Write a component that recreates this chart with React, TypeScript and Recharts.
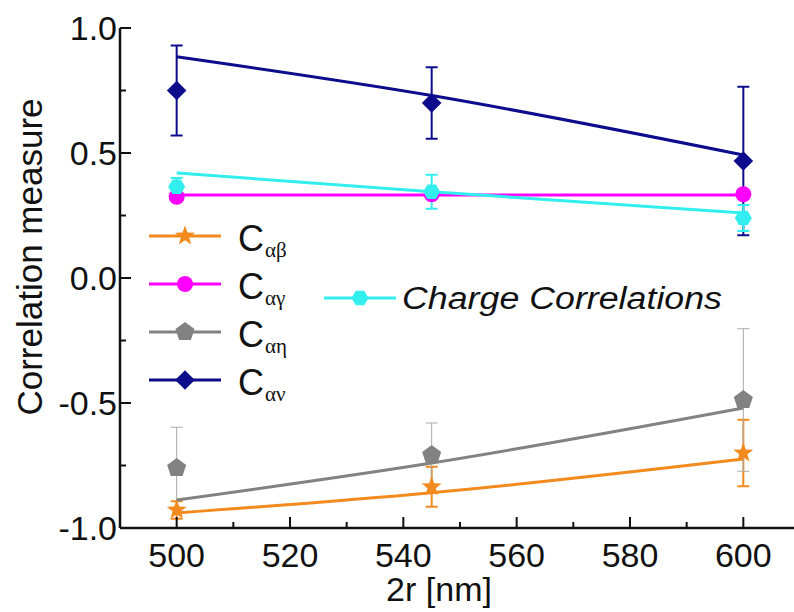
import React from "react";
import { ComposedChart, Line, Scatter, ErrorBar, XAxis, YAxis, Legend } from "recharts";

// sphere diameter 2r in nm
const radii = [500, 545, 600];

// measured correlations with error bars
const cAlphaBeta = [-0.928, -0.835, -0.7];
const cAlphaBetaErr = [0.035, 0.08, 0.133];
const cAlphaGamma = [0.325, 0.335, 0.335];
const cAlphaGammaErr = [0.012, 0.012, 0.012];
const cAlphaEta = [-0.76, -0.708, -0.488];
const cAlphaEtaErr = [0.163, 0.128, 0.285];
const cAlphaNu = [0.75, 0.7, 0.468];
const cAlphaNuErr = [0.18, 0.143, 0.297];
const chargeCorr = [0.365, 0.345, 0.24];
const chargeCorrErr = [0.035, 0.068, 0.052];

// fitted curves
const fitAlphaBeta = [-0.94, -0.859, -0.724];
const fitAlphaGamma = [0.332, 0.332, 0.332];
const fitAlphaEta = [-0.888, -0.74, -0.52];
const fitAlphaNu = [0.885, 0.73, 0.492];
const fitCharge = [0.42, 0.345, 0.26];

const xTicks = [500, 510, 520, 530, 540, 550, 560, 570, 580, 590, 600];
const xTickLabels = [500, 520, 540, 560, 580, 600];
const yTicks = [-1, -0.75, -0.5, -0.25, 0, 0.25, 0.5, 0.75, 1];
const yTickLabels = [-1, -0.5, 0, 0.5, 1];

const rows = radii.map((r, i) => ({
  r,
  ab: cAlphaBeta[i],
  abErr: cAlphaBetaErr[i],
  abFit: fitAlphaBeta[i],
  ag: cAlphaGamma[i],
  agErr: cAlphaGammaErr[i],
  agFit: fitAlphaGamma[i],
  ae: cAlphaEta[i],
  aeErr: cAlphaEtaErr[i],
  aeFit: fitAlphaEta[i],
  an: cAlphaNu[i],
  anErr: cAlphaNuErr[i],
  anFit: fitAlphaNu[i],
  ch: chargeCorr[i],
  chErr: chargeCorrErr[i],
  chFit: fitCharge[i],
}));

const FONT = '"Liberation Sans", Arial, sans-serif';
const GREEK = '"Liberation Serif", "DejaVu Serif", serif';

const series = [
  { key: "ab", name: "Cαβ", sub: "αβ", color: "#f28a1e", marker: "star", err: "#f28a1e", errW: 2 },
  { key: "ag", name: "Cαγ", sub: "αγ", color: "#ff00ff", marker: "circle", err: "#ff00ff", errW: 2 },
  { key: "ae", name: "Cαη", sub: "αη", color: "#828282", marker: "pentagon", err: "#aaaaaa", errW: 1 },
  { key: "an", name: "Cαν", sub: "αν", color: "#0c0c8c", marker: "diamond", err: "#0c0c8c", errW: 2 },
  { key: "ch", name: "Charge Correlations", sub: "", color: "#33eeee", marker: "hexagon", err: "#33eeee", errW: 2 },
];

function poly(cx: number, cy: number, n: number, outer: number, inner: number, start: number) {
  const pts: string[] = [];
  const step = inner > 0 ? Math.PI / n : (2 * Math.PI) / n;
  const count = inner > 0 ? n * 2 : n;
  for (let k = 0; k < count; k++) {
    const rad = inner > 0 && k % 2 === 1 ? inner : outer;
    const a = start + k * step;
    pts.push(`${cx + rad * Math.cos(a)},${cy + rad * Math.sin(a)}`);
  }
  return pts.join(" ");
}

function Marker({ kind, cx, cy, color }: { kind: string; cx: number; cy: number; color: string }) {
  if (cx == null || cy == null) return null;
  const up = -Math.PI / 2;
  if (kind === "circle") return <circle cx={cx} cy={cy} r={8} fill={color} />;
  if (kind === "star") return <polygon points={poly(cx, cy, 5, 10.5, 4.3, up)} fill={color} />;
  if (kind === "pentagon") return <polygon points={poly(cx, cy, 5, 10, 0, up)} fill={color} />;
  if (kind === "diamond") return <polygon points={poly(cx, cy, 4, 9.8, 0, up)} fill={color} />;
  return <polygon points={poly(cx, cy, 6, 8.5, 0, 0)} fill={color} />;
}

function BottomTick(props: any) {
  const { x, y, payload } = props;
  const major = xTickLabels.includes(payload.value);
  return (
    <g>
      <line x1={x} x2={x} y1={y} y2={y - (major ? 11 : 6)} stroke="#111" strokeWidth={2} />
      {major && (
        <text x={x} y={y + 39} textAnchor="middle" fontSize={34} fontFamily={FONT} fill="#111">
          {payload.value}
        </text>
      )}
    </g>
  );
}

function TopTick(props: any) {
  const { x, y, payload } = props;
  const major = xTickLabels.includes(payload.value);
  return <line x1={x} x2={x} y1={y} y2={y + (major ? 11 : 6)} stroke="#111" strokeWidth={2} />;
}

function LeftTick(props: any) {
  const { x, y, payload } = props;
  const major = yTickLabels.includes(payload.value);
  return (
    <g>
      <line x1={x} x2={x + (major ? 11 : 6)} y1={y} y2={y} stroke="#111" strokeWidth={2} />
      {major && (
        <text x={x - 3} y={y + 12} textAnchor="end" fontSize={34} fontFamily={FONT} fill="#111">
          {payload.value.toFixed(1)}
        </text>
      )}
    </g>
  );
}

function RightTick(props: any) {
  const { x, y, payload } = props;
  const major = yTickLabels.includes(payload.value);
  return <line x1={x} x2={x - (major ? 11 : 6)} y1={y} y2={y} stroke="#111" strokeWidth={2} />;
}

function renderLegend(props: any) {
  const payload = props.payload || [];
  return (
    <svg width={810} height={612}>
      {payload.map((entry: any) => {
        const idx = series.findIndex((s) => s.name === entry.value);
        if (idx < 0) return null;
        const s = series[idx];
        const left = idx < 4;
        const cy = left ? 236 + idx * 48 : 298;
        const x0 = left ? 149 : 324;
        return (
          <g key={s.key}>
            <line x1={x0} x2={x0 + 72} y1={cy} y2={cy} stroke={s.color} strokeWidth={3} />
            <Marker kind={s.marker} cx={x0 + 36} cy={cy} color={s.color} />
            {left ? (
              <text x={238} y={cy + 15} fontFamily={FONT} fill="#111">
                <tspan fontSize={36}>C</tspan>
                <tspan fontSize={21} fontFamily={GREEK} dx={1} dy={6}>{s.sub}</tspan>
              </text>
            ) : (
              <text
                x={402}
                y={cy + 11}
                fontSize={31}
                fontStyle="italic"
                fontFamily={FONT}
                fill="#111"
                textLength={320}
                lengthAdjust="spacingAndGlyphs"
              >
                {s.name}
              </text>
            )}
          </g>
        );
      })}
    </svg>
  );
}

export default function App() {
  return (
    <div style={{ position: "absolute", left: 0, top: 0, width: 794, height: 612, overflow: "hidden", background: "#fff" }}>
      <ComposedChart width={810} height={612} data={rows} margin={{ top: 28, right: 10, bottom: 0, left: 0 }}>
        <XAxis
          dataKey="r"
          type="number"
          domain={[490, 610]}
          ticks={xTicks}
          interval={0}
          tickSize={0}
          tickMargin={0}
          height={84}
          tick={<BottomTick />}
          axisLine={{ stroke: "#111", strokeWidth: 2.5 }}
          label={{
            content: (p: any) => (
              <text
                x={p.viewBox.x + p.viewBox.width / 2 - 21}
                y={p.viewBox.y + 73}
                textAnchor="middle"
                fontSize={34}
                fontFamily={FONT}
                fill="#111"
              >
                2r [nm]
              </text>
            ),
          }}
        />
        <XAxis
          xAxisId="top"
          orientation="top"
          dataKey="r"
          type="number"
          domain={[490, 610]}
          ticks={xTicks}
          interval={0}
          tickSize={0}
          tickMargin={0}
          height={0}
          tick={<TopTick />}
          axisLine={{ stroke: "#111", strokeWidth: 2.5 }}
        />
        <YAxis
          type="number"
          domain={[-1, 1]}
          ticks={yTicks}
          interval={0}
          tickSize={0}
          tickMargin={0}
          width={120}
          tick={<LeftTick />}
          axisLine={{ stroke: "#111", strokeWidth: 2.5 }}
          label={{
            content: () => (
              <text
                x={42}
                y={257}
                transform="rotate(-90, 42, 257)"
                textAnchor="middle"
                fontSize={35}
                fontFamily={FONT}
                fill="#111"
              >
                Correlation measure
              </text>
            ),
          }}
        />
        <YAxis
          yAxisId="right"
          orientation="right"
          type="number"
          domain={[-1, 1]}
          ticks={yTicks}
          interval={0}
          tickSize={0}
          tickMargin={0}
          width={0}
          tick={<RightTick />}
          axisLine={{ stroke: "#111", strokeWidth: 2.5 }}
        />
        <Legend
          content={renderLegend}
          layout="horizontal"
          verticalAlign="middle"
          align="center"
          wrapperStyle={{ position: "absolute", left: 0, top: 0, width: 810, height: 612, pointerEvents: "none" }}
        />
        {series.map((s) => (
          <Scatter
            key={s.key}
            name={s.name}
            dataKey={s.key}
            fill={s.color}
            isAnimationActive={false}
            shape={(p: any) => <Marker kind={s.marker} cx={p.cx} cy={p.cy} color={s.color} />}
          >
            <ErrorBar dataKey={`${s.key}Err`} direction="y" width={6} strokeWidth={s.errW} stroke={s.err} />
          </Scatter>
        ))}
        {series.map((s) => (
          <Line
            key={`${s.key}-fit`}
            dataKey={`${s.key}Fit`}
            type="monotone"
            stroke={s.color}
            strokeWidth={3}
            dot={false}
            legendType="none"
            isAnimationActive={false}
          />
        ))}
      </ComposedChart>
    </div>
  );
}
